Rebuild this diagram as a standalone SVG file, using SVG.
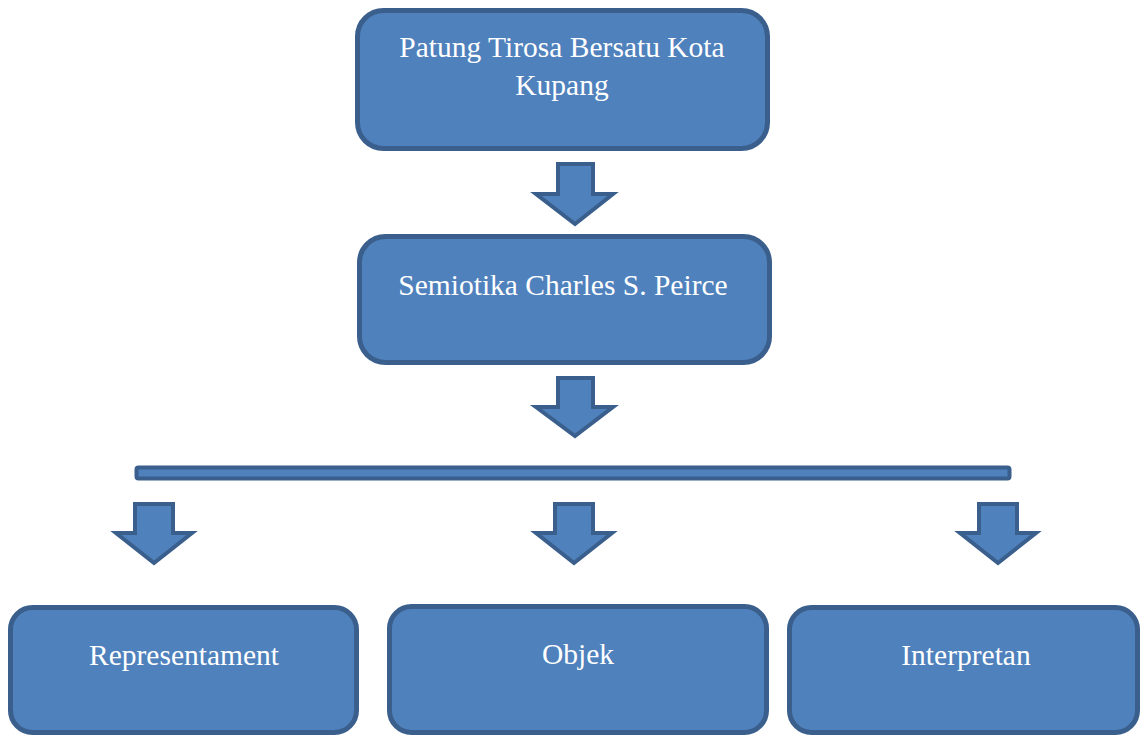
<svg xmlns="http://www.w3.org/2000/svg" width="1140" height="735" viewBox="0 0 1140 735">
<style>
.box{fill:#4f81bd;stroke:#3a5f8d;stroke-width:5}
.arr{fill:#4f81bd;stroke:#3a5f8d;stroke-width:4;stroke-linejoin:miter}
.t{font-family:"Liberation Serif","Times New Roman",serif;font-size:29.5px;fill:#ffffff;text-anchor:middle}
</style>
<rect width="1140" height="735" fill="#ffffff"/>
<g id="connectors">
<polygon class="arr" points="558,164 593,164 593,194 613,194 575,224 536,194 558,194"/>
<polygon class="arr" points="558,378 593,378 593,407 613,407 575,436 536,407 558,407"/>
<rect class="arr" x="136.5" y="467.5" width="873" height="11" rx="2"/>
<polygon class="arr" points="135,504 173,504 173,533 192,533 154,563 116,533 135,533"/>
<polygon class="arr" points="555,504 593,504 593,533 612,533 574,563 536,533 555,533"/>
<polygon class="arr" points="979,504 1017,504 1017,533 1036,533 998,563 960,533 979,533"/>
</g>
<g id="node-patung">
<rect class="box" x="357.5" y="10.5" width="410" height="138" rx="26"/>
<text class="t" x="562" y="57">Patung Tirosa Bersatu Kota</text>
<text class="t" x="562" y="95">Kupang</text>
</g>
<g id="node-semiotika">
<rect class="box" x="359.5" y="236.5" width="410" height="126" rx="26"/>
<text class="t" x="563" y="295">Semiotika Charles S. Peirce</text>
</g>
<g id="node-representament">
<rect class="box" x="10.5" y="607.5" width="346" height="125" rx="22"/>
<text class="t" x="184" y="665">Representament</text>
</g>
<g id="node-objek">
<rect class="box" x="389.5" y="606.5" width="377" height="126" rx="22"/>
<text class="t" x="578" y="664">Objek</text>
</g>
<g id="node-interpretan">
<rect class="box" x="789.5" y="607.5" width="348" height="125" rx="22"/>
<text class="t" x="966" y="665">Interpretan</text>
</g>
</svg>
